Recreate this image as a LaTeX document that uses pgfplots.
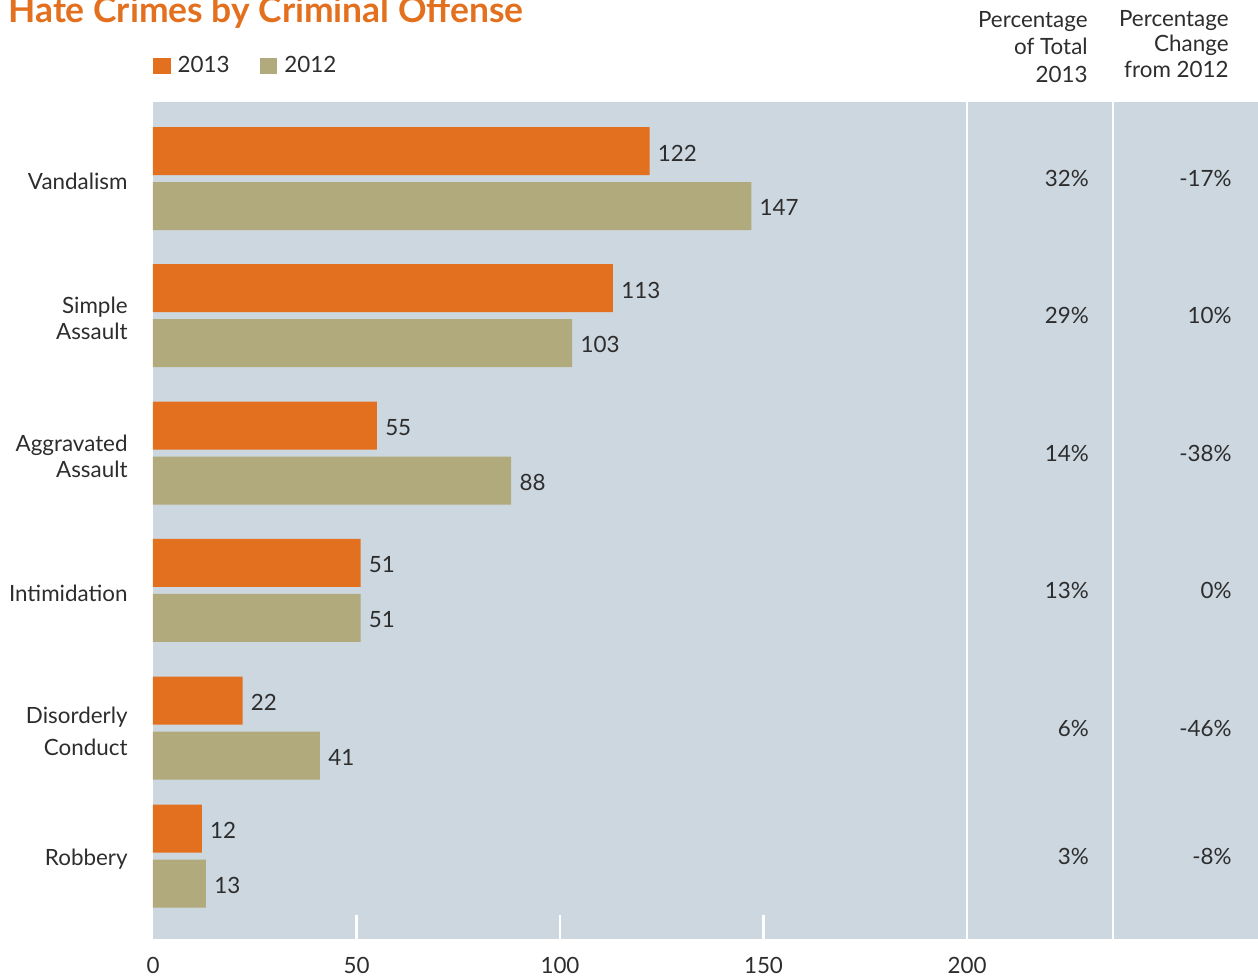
\documentclass[border=0pt]{standalone}
\usepackage{pgfplots}
\pgfplotsset{compat=1.18}
\usepackage{fontspec}
\setmainfont{Lato}
\definecolor{orng}{RGB}{227,112,30}
\definecolor{khaki}{RGB}{176,170,124}
\definecolor{bgc}{RGB}{205,215,224}
\definecolor{txt}{RGB}{45,45,45}
\newcommand{\lbl}{\fontsize{11.2}{13}\selectfont}
\begin{document}
\begin{tikzpicture}[x=0.5pt,y=-0.5pt]
\useasboundingbox (0,0) rectangle (1258,977);
\node[anchor=base west, inner sep=0pt, font=\fontsize{17.7}{20}\selectfont\bfseries, text=orng] at (8,23) {Hate Crimes by Criminal Offense};
\node[anchor=base east, inner sep=0pt, font=\lbl, text=txt] at (1088,28) {Percentage};
\node[anchor=base east, inner sep=0pt, font=\lbl, text=txt] at (1088,55) {of Total};
\node[anchor=base east, inner sep=0pt, font=\lbl, text=txt] at (1088,82.5) {2013};
\node[anchor=base east, inner sep=0pt, font=\lbl, text=txt] at (1229,26.5) {Percentage};
\node[anchor=base east, inner sep=0pt, font=\lbl, text=txt] at (1229,52) {Change};
\node[anchor=base east, inner sep=0pt, font=\lbl, text=txt] at (1229,78) {from 2012};
\begin{axis}[
  at={(76.5pt,-51pt)}, anchor=north west,
  width=552.5pt, height=418.5pt, scale only axis,
  xmin=0, xmax=271.5, ymin=102, ymax=939, y dir=reverse,
  axis background/.style={fill=bgc},
  axis line style={draw=none},
  major tick length=0pt,
  xtick={0,50,100,150,200},
  ytick={178.5,315.5,453,590.3,728,856},
  yticklabels={Vandalism,{Simple\\Assault},{Aggravated\\Assault},Intimidation,{Disorderly\\[3pt]Conduct},Robbery},
  yticklabel style={align=right, anchor=east, inner sep=0pt, xshift=-12.5pt, yshift=-1.5pt},
  xticklabel style={anchor=north, inner sep=0pt, yshift=-8.8pt},
  tick label style={font=\lbl, text=txt},
  /pgf/number format/assume math mode=true,
  clip=false,
  legend style={at={(0,1)}, anchor=west, yshift=18pt, draw=none, fill=none, inner sep=0pt, outer sep=0pt, font=\lbl, text=txt, legend columns=2, /tikz/every odd column/.append style={column sep=3.5pt}, /tikz/every even column/.append style={column sep=15pt}, nodes={inner sep=0pt}, legend cell align=left},
  legend image code/.code={\fill[#1] (0pt,-4.15pt) rectangle (8.85pt,4.15pt);},
  every node near coord/.append style={font=\lbl, text=txt},
]
\addplot[xbar, bar width=48, bar shift=-27.5, fill=orng, draw=none, nodes near coords, nodes near coords style={anchor=west, inner sep=0pt, xshift=4pt, yshift=12.75pt}]
  coordinates {(122,178.5) (113,315.5) (55,453) (51,590.3) (22,728) (12,856)};
\addlegendentry{2013}
\addplot[xbar, bar width=48, bar shift=27.5, fill=khaki, draw=none, nodes near coords, nodes near coords style={anchor=west, inner sep=0pt, xshift=4pt, yshift=-14.5pt}]
  coordinates {(147,178.5) (103,315.5) (88,453) (51,590.3) (41,728) (13,856)};
\addlegendentry{2012}
\addplot[forget plot, only marks, mark=none, point meta=explicit symbolic, nodes near coords, nodes near coords style={anchor=east, inner sep=0pt}]
  coordinates {(230,178.5)[32\%] (230,315.5)[29\%] (230,453)[14\%] (230,590.3)[13\%] (230,728)[6\%] (230,856)[3\%]};
\addplot[forget plot, only marks, mark=none, point meta=explicit symbolic, nodes near coords, nodes near coords style={anchor=east, inner sep=0pt}]
  coordinates {(265.1,178.5)[-17\%] (265.1,315.5)[10\%] (265.1,453)[-38\%] (265.1,590.3)[0\%] (265.1,728)[-46\%] (265.1,856)[-8\%]};
\draw[white, line width=1.15pt] (axis cs:200,102) -- (axis cs:200,939);
\draw[white, line width=1.15pt] (axis cs:235.9,102) -- (axis cs:235.9,939);
\draw[white, line width=1.15pt] (axis cs:50,915) -- (axis cs:50,939);
\draw[white, line width=1.15pt] (axis cs:100,915) -- (axis cs:100,939);
\draw[white, line width=1.15pt] (axis cs:150,915) -- (axis cs:150,939);
\end{axis}
\end{tikzpicture}
\end{document}
